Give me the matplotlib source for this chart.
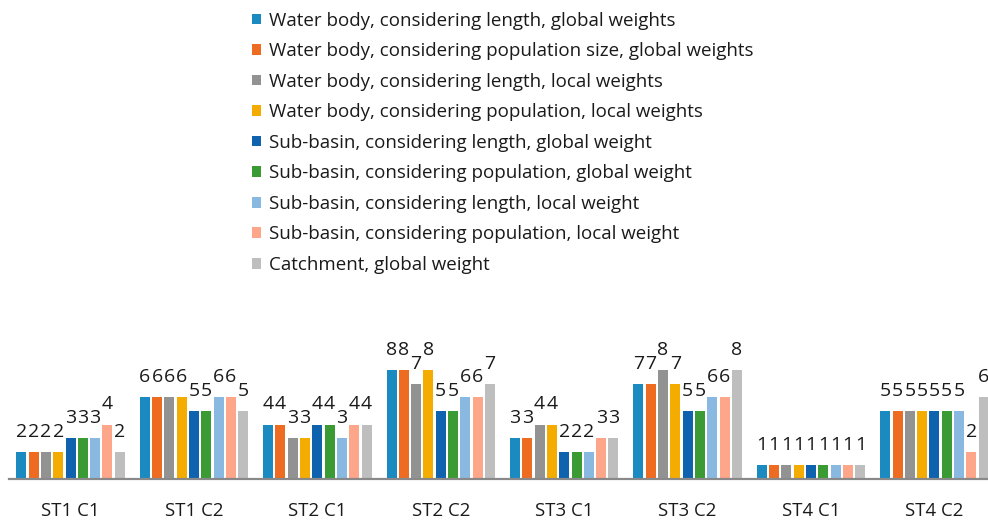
import numpy as np
import matplotlib
matplotlib.use('Agg')
import matplotlib.pyplot as plt
from matplotlib.patches import Patch

plt.rcParams['font.family'] = ['Open Sans', 'DejaVu Sans']

groups = ['ST1 C1', 'ST1 C2', 'ST2 C1', 'ST2 C2', 'ST3 C1', 'ST3 C2', 'ST4 C1', 'ST4 C2']
series = [
    'Water body, considering length, global weights',
    'Water body, considering population size, global weights',
    'Water body, considering length, local weights',
    'Water body, considering population, local weights',
    'Sub-basin, considering length, global weight',
    'Sub-basin, considering population, global weight',
    'Sub-basin, considering length, local weight',
    'Sub-basin, considering population, local weight',
    'Catchment, global weight',
]
colors = ['#1A8AC0', '#EE6C22', '#929292', '#F4AC00', '#0E62AE', '#3A9A34', '#89B9E1', '#FDA68A', '#BEBEBE']

# values per series (one entry per group)
wb_len_glob = [2, 6, 4, 8, 3, 7, 1, 5]
wb_pop_glob = [2, 6, 4, 8, 3, 7, 1, 5]
wb_len_loc = [2, 6, 3, 7, 4, 8, 1, 5]
wb_pop_loc = [2, 6, 3, 8, 4, 7, 1, 5]
sb_len_glob = [3, 5, 4, 5, 2, 5, 1, 5]
sb_pop_glob = [3, 5, 4, 5, 2, 5, 1, 5]
sb_len_loc = [3, 6, 3, 6, 2, 6, 1, 5]
sb_pop_loc = [4, 6, 4, 6, 3, 6, 1, 2]
catch_glob = [2, 5, 4, 7, 3, 8, 1, 6]
values = [wb_len_glob, wb_pop_glob, wb_len_loc, wb_pop_loc,
          sb_len_glob, sb_pop_glob, sb_len_loc, sb_pop_loc, catch_glob]

W, H = 988, 520
fig = plt.figure(figsize=(W / 100, H / 100), dpi=100)
# axes runs a little past the right edge, like the cropped original
ax = fig.add_axes([8.8 / W, (H - 479) / H, 987.4 / W, 136 / H])

x = np.arange(len(groups))
slot = 0.0997
bw = 0.081
for i, (vals, col) in enumerate(zip(values, colors)):
    off = (i - 4) * slot
    bars = ax.bar(x + off, vals, width=bw, color=col, zorder=2)
    for b, v in zip(bars, vals):
        ax.annotate(str(v), (b.get_x() + b.get_width() / 2, v), xytext=(0, 8),
                    textcoords='offset points', ha='center', va='bottom',
                    fontsize=14, color='#1a1a1a')

ax.set_xlim(-0.5, 7.5)
ax.set_ylim(0, 10)
ax.set_yticks([])
ax.set_xticks(x)
ax.set_xticklabels(groups, fontsize=13.4, color='#1a1a1a')
ax.tick_params(axis='x', length=0, pad=16.5)
for s in ['top', 'left', 'right']:
    ax.spines[s].set_visible(False)
ax.spines['bottom'].set_color('#898989')
ax.spines['bottom'].set_linewidth(1.6)

handles = [Patch(facecolor=c, edgecolor='none') for c in colors]
fig.legend(handles, series, loc='upper left', bbox_to_anchor=(244 / W, 1 - 4 / H),
           frameon=False, fontsize=13.5, handlelength=0.5, handleheight=0.5,
           handletextpad=0.42, labelspacing=0.67, borderaxespad=0, labelcolor='#1a1a1a')

fig.savefig('out.png', dpi=100)
